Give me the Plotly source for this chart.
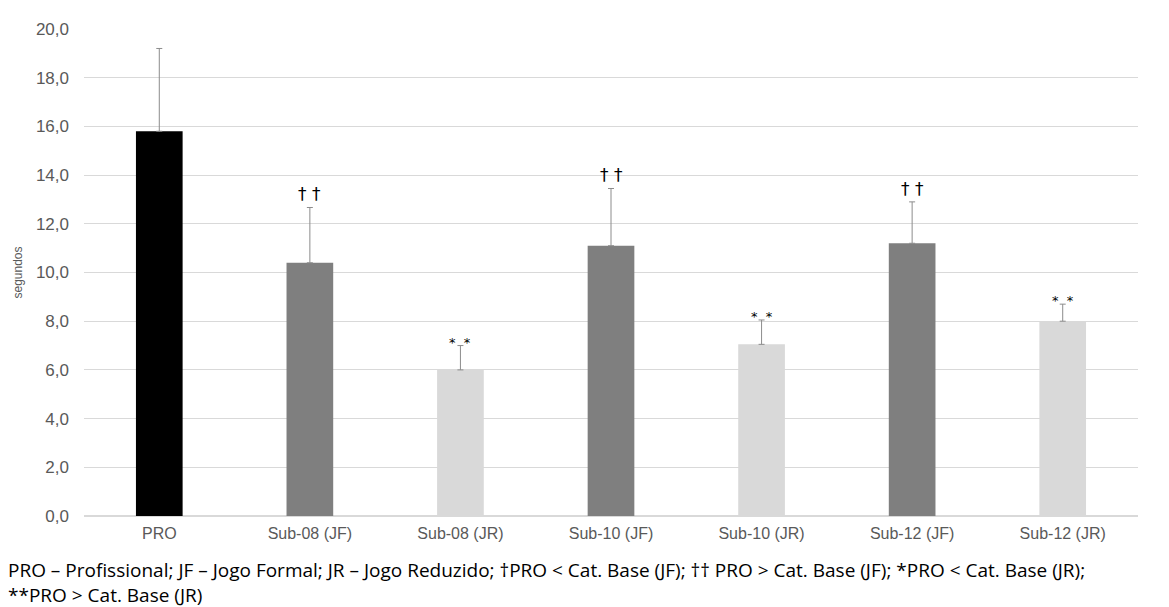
import plotly.graph_objects as go

categories = ["PRO", "Sub-08 (JF)", "Sub-08 (JR)", "Sub-10 (JF)", "Sub-10 (JR)", "Sub-12 (JF)", "Sub-12 (JR)"]
means = [15.8, 10.4, 6.0, 11.1, 7.05, 11.2, 8.0]
errors = [3.4, 2.27, 1.0, 2.35, 1.0, 1.7, 0.7]
marks = ["", "† †", "*\u00a0\u00a0*", "† †", "*\u00a0\u00a0*", "† †", "*\u00a0\u00a0*"]
colors = ["#000000", "#7f7f7f", "#d9d9d9", "#7f7f7f", "#d9d9d9", "#7f7f7f", "#d9d9d9"]
yticks = [0, 2, 4, 6, 8, 10, 12, 14, 16, 18, 20]
caption_lines = [
    "PRO – Profissional; JF – Jogo Formal; JR – Jogo Reduzido; †PRO < Cat. Base (JF); †† PRO > Cat. Base (JF); *PRO < Cat. Base (JR);",
    "**PRO > Cat. Base (JR)",
]

fig = go.Figure()
fig.add_trace(go.Bar(
    x=categories, y=means,
    marker=dict(color=colors, line=dict(width=0)),
    width=0.31,
    error_y=dict(type="data", array=errors, symmetric=False, arrayminus=[0] * len(errors),
                 color="#8c8c8c", thickness=1, width=3),
    showlegend=False,
))

for c, m, e, t in zip(categories, means, errors, marks):
    if not t:
        continue
    if "†" in t:
        fig.add_annotation(x=c, y=m + e, text=t, showarrow=False, yanchor="bottom", yshift=1,
                           font=dict(family="DejaVu Sans", size=17, color="#000000"))
    else:
        fig.add_annotation(x=c, y=m + e, text=t, showarrow=False, yanchor="bottom", yshift=-6,
                           font=dict(family="DejaVu Sans", size=13, color="#000000"))

# y-axis title
fig.add_annotation(xref="paper", yref="paper", x=0, y=0.5, xshift=-76, text="segundos",
                   textangle=-90, showarrow=False,
                   font=dict(family="Liberation Sans", size=12, color="#595959"))

# caption
fig.add_annotation(xref="paper", yref="paper", x=0, y=0, xanchor="left", yanchor="middle",
                   xshift=-78, yshift=-66, text="<br>".join(caption_lines), showarrow=False,
                   align="left", font=dict(family="Open Sans", size=19, color="#000000"))

fig.update_layout(
    width=1161, height=599,
    margin=dict(l=76, r=31, t=15, b=91),
    plot_bgcolor="white", paper_bgcolor="white",
    separators=",.",
    yaxis=dict(range=[0, 20], tickvals=yticks, tickformat=".1f", showgrid=True,
               gridcolor="#d9d9d9", gridwidth=1, zeroline=True, zerolinecolor="#d9d9d9",
               tickfont=dict(family="Liberation Sans", size=17, color="#595959"),
               ticks="", ticklabelstandoff=14, fixedrange=True),
    xaxis=dict(tickfont=dict(family="Liberation Sans", size=16, color="#595959"),
               showline=False, ticks="", ticklabelstandoff=6),
)

fig.write_html("out.html")
